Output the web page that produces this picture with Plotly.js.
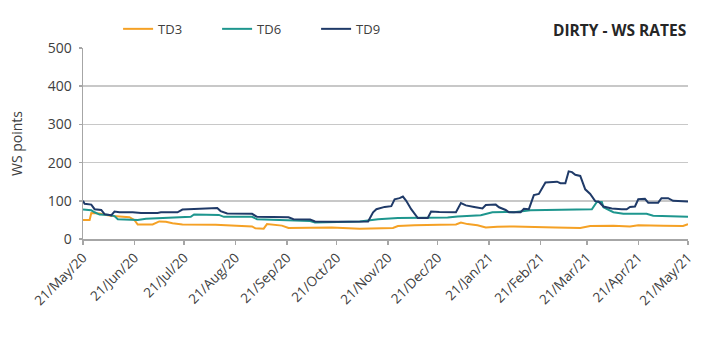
<!DOCTYPE html>
<html>
<head>
<meta charset="utf-8">
<script src="https://cdn.plot.ly/plotly-3.0.1.min.js"></script>
<style>
  html, body { margin: 0; padding: 0; background: #ffffff; }
  #chart { width: 717px; height: 344px; }
</style>
</head>
<body>
<div id="chart"></div>
<script>
// ---- Data ----
const td3Dates = ['2020-05-21','2020-05-25','2020-05-26','2020-05-31','2020-06-04','2020-06-08','2020-06-18','2020-06-21','2020-06-23','2020-07-02','2020-07-06','2020-07-10','2020-07-14','2020-07-20','2020-08-09','2020-08-24','2020-08-31','2020-09-02','2020-09-07','2020-09-09','2020-09-13','2020-09-18','2020-09-22','2020-10-08','2020-10-18','2020-11-04','2020-11-24','2020-11-27','2020-12-07','2020-12-22','2021-01-01','2021-01-04','2021-01-08','2021-01-14','2021-01-19','2021-01-26','2021-02-05','2021-03-02','2021-03-17','2021-03-23','2021-04-06','2021-04-16','2021-04-21','2021-05-06','2021-05-18','2021-05-21'];
const td3Values = [50,50,68,67,63,60,57,50,38,38,46,45,41,38,37,34,33,28,27,39,38,35,29,29,30,27,29,34,36,37,38,43,39,36,30,32,33,30,29,34,35,33,36,35,34,39];

const td6Dates = ['2020-05-21','2020-05-26','2020-05-28','2020-05-31','2020-06-06','2020-06-09','2020-06-11','2020-06-20','2020-06-23','2020-06-28','2020-07-10','2020-07-18','2020-07-25','2020-07-27','2020-08-11','2020-08-14','2020-08-31','2020-09-03','2020-09-23','2020-09-25','2020-10-05','2020-10-08','2020-10-18','2020-11-04','2020-11-15','2020-11-27','2020-12-27','2021-01-02','2021-01-16','2021-01-23','2021-01-31','2021-02-05','2021-02-15','2021-03-02','2021-03-24','2021-03-27','2021-03-30','2021-03-31','2021-04-06','2021-04-12','2021-04-26','2021-04-30','2021-05-11','2021-05-21'];
const td6Values = [77,75,70,64,63,60,52,50,50,53,55,57,58,64,63,58,58,52,50,48,47,43,44,46,52,55,56,59,62,70,71,70,75,77,78,97,97,83,70,66,66,61,60,58];

const td9Dates = ['2020-05-21','2020-05-22','2020-05-26','2020-05-28','2020-06-01','2020-06-03','2020-06-07','2020-06-09','2020-06-12','2020-06-20','2020-06-25','2020-07-05','2020-07-07','2020-07-17','2020-07-20','2020-07-26','2020-07-28','2020-08-10','2020-08-12','2020-08-16','2020-08-31','2020-09-03','2020-09-22','2020-09-25','2020-10-05','2020-10-08','2020-10-18','2020-11-09','2020-11-12','2020-11-14','2020-11-19','2020-11-23','2020-11-25','2020-11-28','2020-11-30','2020-12-02','2020-12-05','2020-12-08','2020-12-09','2020-12-15','2020-12-17','2020-12-22','2021-01-01','2021-01-04','2021-01-07','2021-01-12','2021-01-17','2021-01-19','2021-01-25','2021-01-27','2021-01-31','2021-02-02','2021-02-09','2021-02-11','2021-02-14','2021-02-17','2021-02-20','2021-02-24','2021-03-03','2021-03-05','2021-03-08','2021-03-10','2021-03-12','2021-03-14','2021-03-17','2021-03-20','2021-03-23','2021-03-26','2021-03-28','2021-03-31','2021-04-05','2021-04-11','2021-04-14','2021-04-16','2021-04-19','2021-04-21','2021-04-25','2021-04-27','2021-05-03','2021-05-05','2021-05-09','2021-05-12','2021-05-21'];
const td9Values = [100,92,90,78,76,65,62,72,70,70,68,68,70,70,77,78,80,81,73,67,66,58,57,52,51,46,45,46,70,78,84,86,104,107,111,100,78,60,55,55,72,71,70,94,88,84,80,89,90,83,76,70,70,79,78,115,118,148,150,146,146,177,175,168,165,130,118,99,98,85,80,78,78,84,85,104,105,95,95,107,107,100,98];

const seriesNames = ['TD3','TD6','TD9'];
const tickDates = ['2020-05-21','2020-06-21','2020-07-21','2020-08-21','2020-09-21','2020-10-21','2020-11-21','2020-12-21','2021-01-21','2021-02-21','2021-03-21','2021-04-21','2021-05-21'];
const yTicks = [0,100,200,300,400,500];

// ---- Styling ----
const colors = ['#F5A125', '#1E968E', '#1F3A68'];
const fontFam = '"Open Sans", Lato, "Liberation Sans", sans-serif';
const textCol = '#404040';

const xs = [td3Dates, td6Dates, td9Dates];
const ys = [td3Values, td6Values, td9Values];
const traces = seriesNames.map((n, i) => ({
  type: 'scatter', mode: 'lines', name: n,
  x: xs[i], y: ys[i],
  line: { color: colors[i], width: 2 },
  hoverinfo: 'skip'
}));

const layout = {
  width: 717, height: 344,
  margin: { l: 83, r: 29, t: 48, b: 105 },
  paper_bgcolor: '#ffffff', plot_bgcolor: '#ffffff',
  font: { family: fontFam, color: textCol, size: 13 },
  showlegend: true,
  legend: {
    orientation: 'h', x: 0.058, xanchor: 'left', y: 1.1, yanchor: 'middle',
    font: { size: 13, color: textCol, family: fontFam },
    entrywidth: 54, bgcolor: 'rgba(0,0,0,0)', traceorder: 'normal'
  },
  xaxis: {
    type: 'date',
    range: ['2020-05-21', '2021-05-21'],
    tickvals: tickDates,
    tickformat: '%d/%b/%y',
    tickangle: -45,
    ticks: 'outside', ticklen: 4, tickcolor: '#a6a6a6', tickwidth: 1.5,
    showline: true, linecolor: '#a6a6a6', linewidth: 1.5,
    showgrid: false, zeroline: false,
    tickfont: { size: 13.5, color: textCol, family: fontFam }
  },
  yaxis: {
    range: [0, 500], tickvals: yTicks,
    ticks: 'outside', ticklen: 3, tickcolor: '#a6a6a6', tickwidth: 1.5,
    ticklabelstandoff: 4,
    showline: true, linecolor: '#a6a6a6', linewidth: 1.5,
    showgrid: true, gridcolor: '#c8c8c8', gridwidth: 1.5,
    zeroline: false,
    tickfont: { size: 14, color: textCol, family: fontFam },
    title: { text: 'WS points', font: { size: 14, color: textCol, family: fontFam }, standoff: 22 }
  },
  annotations: [{
    text: '<b>DIRTY - WS RATES</b>',
    xref: 'paper', yref: 'paper', x: 1, y: 1.095,
    xanchor: 'right', yanchor: 'middle', showarrow: false,
    font: { size: 15.5, color: '#262626', family: fontFam }
  }]
};

Plotly.newPlot('chart', traces, layout, { staticPlot: true, displayModeBar: false });
</script>
</body>
</html>
